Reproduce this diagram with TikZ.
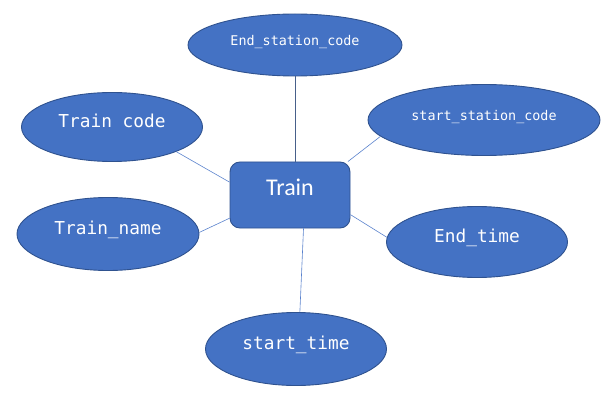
\documentclass[tikz,border=0pt]{standalone}
\usepackage{fontspec}
\usepackage{xcolor}
\usetikzlibrary{shapes.geometric}
\newfontfamily\attrfont{DejaVu Sans Mono}
\newfontfamily\entfont{Carlito}
\definecolor{erfill}{RGB}{68,114,196}
\definecolor{erborder}{RGB}{47,82,143}
\definecolor{erlink}{RGB}{90,130,205}

\begin{document}
\begin{tikzpicture}[
    x=1pt,y=-1pt,
    attr/.style={ellipse,draw=erborder,fill=erfill,line width=0.9pt,inner sep=0pt,
      text=white,text height=0.8em,text depth=0.65em},
    bigattr/.style={attr,font=\attrfont\fontsize{17.8}{20}\selectfont},
    smallattr/.style={attr,font=\attrfont\fontsize{13.4}{16}\selectfont},
    entity/.style={rectangle,rounded corners=10pt,draw=erborder,fill=erfill,line width=0.9pt,
      minimum width=120pt,minimum height=66pt,inner sep=0pt,text=white,
      text height=0.65em,text depth=0.45em,font=\entfont\fontsize{24}{28}\selectfont},
    link/.style={draw=erlink,line width=0.6pt}
  ]
    \useasboundingbox (0,0) rectangle (610,406);
    \node[entity] (train) at (290,195) {Train};
    \node[smallattr,minimum width=214pt,minimum height=62pt] (endstation) at (295,45) {End\_station\_code};
    \node[bigattr,minimum width=181pt,minimum height=69pt] (traincode) at (112,127) {Train code};
    \node[smallattr,minimum width=232pt,minimum height=71pt] (startstation) at (484,120) {start\_station\_code};
    \node[bigattr,minimum width=182pt,minimum height=73pt] (trainname) at (108,234) {Train\_name};
    \node[bigattr,minimum width=181pt,minimum height=71pt] (endtime) at (477,242) {End\_time};
    \node[bigattr,minimum width=181pt,minimum height=73pt] (starttime) at (296,349) {start\_time};

    \draw[link,draw=erborder!70!gray] (endstation.south) -- (endstation.south |- train.north);
    \draw[link] (traincode.-21) -- (train.168);
    \draw[link] (startstation.189) -- (train.30);
    \draw[link] (trainname.1) -- (train.201);
    \draw[link] (endtime.177) -- (train.-18);
    \draw[link] (starttime.84) -- (train.-68);
  \end{tikzpicture}
\end{document}
